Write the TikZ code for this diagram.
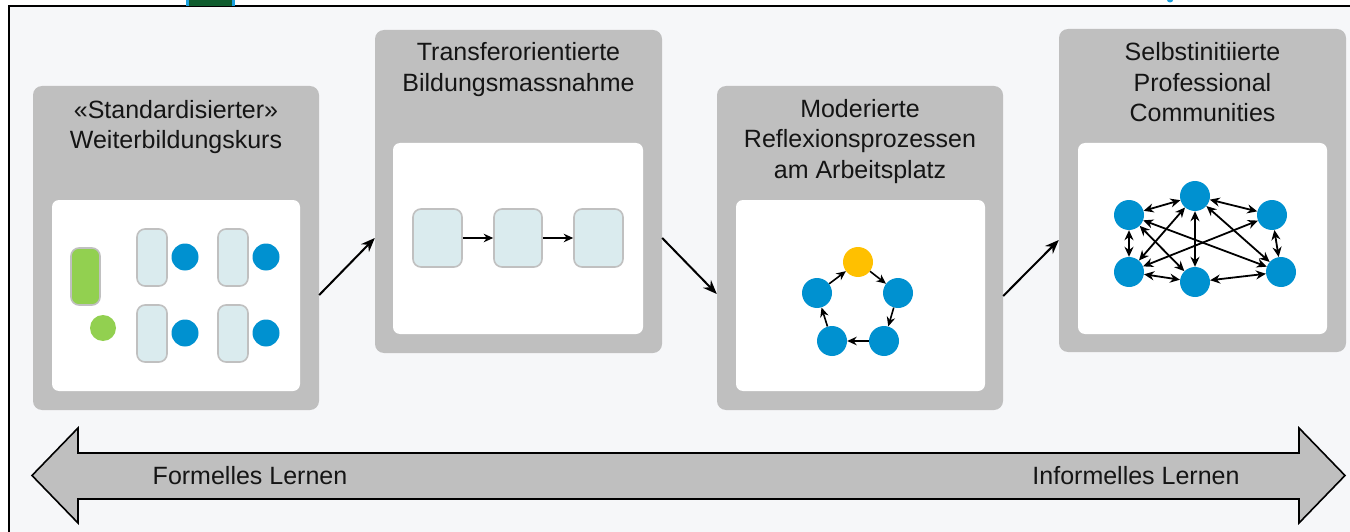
\documentclass[tikz,border=0pt]{standalone}
\usepackage{fontspec}
\setmainfont{Liberation Sans}
\usetikzlibrary{arrows.meta}
\definecolor{bgc}{HTML}{F6F7F9}
\definecolor{panelc}{HTML}{BFBFBF}
\definecolor{lblue}{HTML}{DAEBEE}
\definecolor{rectb}{HTML}{C0C0C0}
\definecolor{lgreen}{HTML}{92D050}
\definecolor{dblue}{HTML}{0091D0}
\definecolor{ylw}{HTML}{FFC000}
\definecolor{txt}{HTML}{151515}
\definecolor{dgreen}{HTML}{0F5C2E}
\definecolor{sblue}{HTML}{1AA0E0}
\begin{document}
\begin{tikzpicture}[x=1pt,y=-1pt,
  panel/.style={fill=panelc, rounded corners=9pt, inner sep=0pt, rectangle},
  innerbox/.style={fill=white, rounded corners=7pt},
  title/.style={anchor=base, inner sep=0pt, text=txt, font=\fontsize{25}{30.5}\selectfont},
  lbl/.style={anchor=base, inner sep=0pt, text=txt, font=\fontsize{25}{30}\selectfont},
  lrect/.style={rectangle, fill=lblue, draw=rectb, line width=1.6pt, rounded corners=8pt, inner sep=0pt},
  grect/.style={rectangle, fill=lgreen, draw=rectb, line width=1.6pt, rounded corners=8pt, inner sep=0pt},
  bcirc/.style={circle, fill=dblue, inner sep=0pt, minimum size=27pt},
  gcirc/.style={circle, fill=lgreen, inner sep=0pt, minimum size=26pt},
  ncirc/.style={circle, fill=dblue, inner sep=0pt, minimum size=30pt},
  ycirc/.style={circle, fill=ylw, inner sep=0pt, minimum size=30pt},
  conn/.style={-{Stealth[length=14pt,width=11pt]}, line width=2pt},
  sarr/.style={-{Stealth[length=9.5pt,width=8.5pt]}, line width=1.6pt},
  darr/.style={{Stealth[length=10pt,width=9pt]}-{Stealth[length=10pt,width=9pt]}, line width=1.8pt}
]
\useasboundingbox (0,0) rectangle (1350,532);
\fill[white] (0,0) rectangle (1350,532);
% outer frame
\fill[bgc] (9,6) rectangle (1350,532);
\draw[line width=1.6pt] (9,532) -- (9,6) -- (1350,6);
% cut-off fragments at top
\fill[sblue] (186,0) rectangle (235,6);
\fill[dgreen] (189,0) rectangle (232,6);
\fill[sblue] (1170,0) ellipse (3pt and 2.5pt);

% panels
\node[panel, minimum width=286pt, minimum height=324pt] (p1) at (176,248) {};
\node[panel, minimum width=287pt, minimum height=323pt] (p2) at (518.5,191.5) {};
\node[panel, minimum width=286pt, minimum height=324pt] (p3) at (860,248) {};
\node[panel, minimum width=287pt, minimum height=323pt] (p4) at (1202.5,190.5) {};

% inner white boxes
\fill[innerbox] (52,200) rectangle (300,391);
\fill[innerbox] (393,143) rectangle (643,334);
\fill[innerbox] (736,200) rectangle (985,391);
\fill[innerbox] (1078,143) rectangle (1327,334);

% titles
\node[title] (t1) at (176,118.3) {\begin{tabular}[t]{@{}c@{}}«Standardisierter»\\Weiterbildungskurs\end{tabular}};
\node[title] (t2) at (518.5,61) {\begin{tabular}[t]{@{}c@{}}Transferorientierte\\Bildungsmassnahme\end{tabular}};
\node[title] (t3) at (860,117.3) {\begin{tabular}[t]{@{}c@{}}Moderierte\\Reflexionsprozessen\\am Arbeitsplatz\end{tabular}};
\node[title] (t4) at (1202.5,61) {\begin{tabular}[t]{@{}c@{}}Selbstinitiierte\\Professional\\Communities\end{tabular}};

% panel 1 content
\node[grect, minimum width=29pt, minimum height=57pt] (g1) at (85.5,276.5) {};
\node[gcirc] (g2) at (103,328) {};
\node[lrect, minimum width=30pt, minimum height=57pt] (a1) at (152,257.5) {};
\node[lrect, minimum width=30pt, minimum height=57pt] (a2) at (152,333.5) {};
\node[lrect, minimum width=30pt, minimum height=57pt] (a3) at (233,257.5) {};
\node[lrect, minimum width=30pt, minimum height=57pt] (a4) at (233,333.5) {};
\node[bcirc] (c1) at (185,257) {};
\node[bcirc] (c2) at (185,333) {};
\node[bcirc] (c3) at (266,257) {};
\node[bcirc] (c4) at (266,333) {};

% panel 2 content
\node[lrect, minimum width=49pt, minimum height=58pt] (r1) at (437.5,238) {};
\node[lrect, minimum width=48pt, minimum height=58pt] (r2) at (518,238) {};
\node[lrect, minimum width=49pt, minimum height=58pt] (r3) at (598.5,238) {};
\draw[sarr] (r1) -- (r2);
\draw[sarr] (r2) -- (r3);

% panel 3 content
\node[ycirc] (y0) at (858,262) {};
\node[ncirc] (m1) at (898,293) {};
\node[ncirc] (m2) at (884,341) {};
\node[ncirc] (m3) at (832,341) {};
\node[ncirc] (m4) at (817,293) {};
\draw[sarr] (y0) -- (m1);
\draw[sarr] (m1) -- (m2);
\draw[sarr] (m2) -- (m3);
\draw[sarr] (m3) -- (m4);
\draw[sarr] (m4) -- (y0);

% panel 4 content
\node[ncirc] (nt) at (1195,196) {};
\node[ncirc] (nul) at (1129,215) {};
\node[ncirc] (nur) at (1272,215) {};
\node[ncirc] (nll) at (1129,272) {};
\node[ncirc] (nlm) at (1195,282) {};
\node[ncirc] (nlr) at (1281,272) {};
\draw[darr] (nul) -- (nt);
\draw[darr] (nt) -- (nur);
\draw[darr] (nul) -- (nll);
\draw[darr] (nll) -- (nlm);
\draw[darr] (nlm) -- (nlr);
\draw[darr] (nur) -- (nlr);
\draw[darr] (nt) -- (nlm);
\draw[darr] (nul) -- (nlr);
\draw[darr] (nul) -- (nlm);
\draw[darr] (nll) -- (nt);
\draw[darr] (nll) -- (nur);
\draw[darr] (nt) -- (nlr);

% connectors between panels
\draw[conn] ([yshift=-47pt]p1.east) -- ([yshift=-46.5pt]p2.west);
\draw[conn] ([yshift=-46.5pt]p2.east) -- ([yshift=-46pt]p3.west);
\draw[conn] ([yshift=-48pt]p3.east) -- ([yshift=-49.5pt]p4.west);

% big double arrow
\draw[fill=panelc, line width=1.6pt, line join=miter]
  (32,475.5) -- (78,428) -- (78,453) -- (1299,453) -- (1299,428) -- (1345,475.5)
  -- (1299,523) -- (1299,499) -- (78,499) -- (78,523) -- cycle;
\node[lbl] (f1) at (250,484) {Formelles Lernen};
\node[lbl] (f2) at (1136,484) {Informelles Lernen};
\end{tikzpicture}
\end{document}
